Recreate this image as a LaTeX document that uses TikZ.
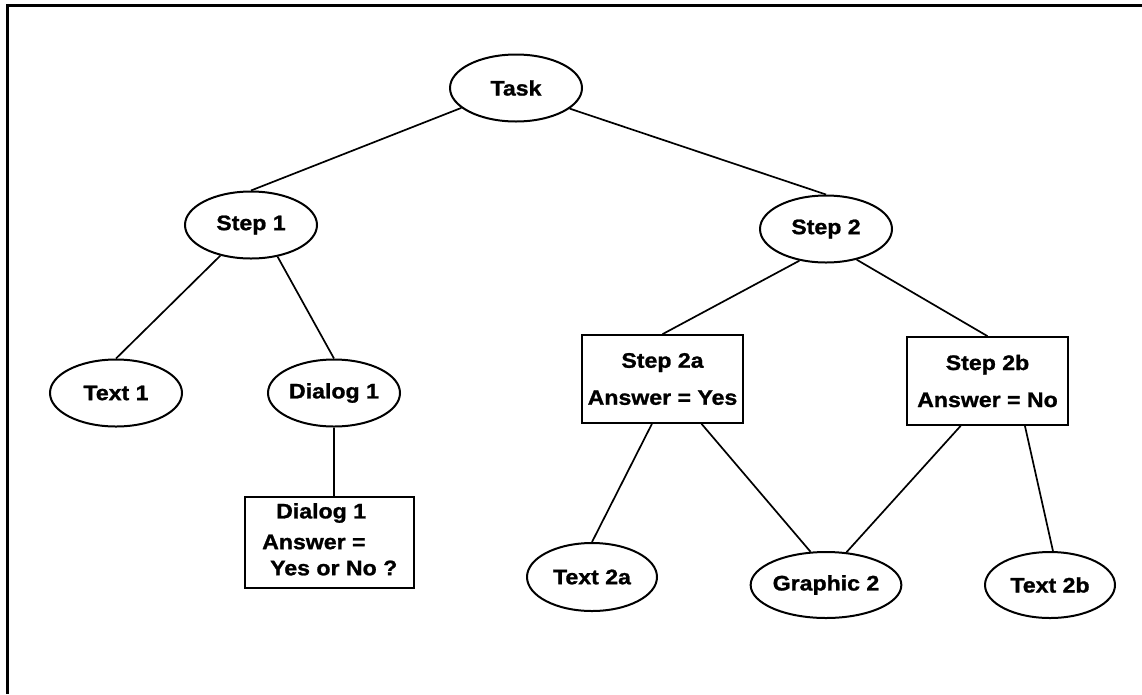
\documentclass[tikz,border=0pt]{standalone}
\usepackage{fontspec}
\newfontfamily\diagfont[FakeStretch=1.1, BoldFeatures={FakeBold=1.2}]{Liberation Sans}
\usetikzlibrary{shapes.geometric,calc}
\tikzset{
  lbl/.style={font=\diagfont\bfseries\fontsize{21}{37}\selectfont},
  oval/.style={ellipse, draw, line width=2pt, inner sep=0pt,
    minimum width=132pt, minimum height=67pt, lbl},
  card/.style={rectangle, draw, line width=1.7pt, inner sep=0pt,
    minimum width=161pt, minimum height=88pt, align=center, lbl},
  link/.style={line width=1.7pt},
  frameline/.style={line width=3pt},
}
\begin{document}
\begin{tikzpicture}[x=1pt,y=-1pt]
\useasboundingbox (0,0) rectangle (1142,694);

% open frame: top and left edges only
\coordinate (fr) at (1142,5);
\coordinate (fc) at (7,5);
\coordinate (fb) at (7,694);
\draw[frameline] (fr) -- (fc) -- (fb);

% tree nodes
\node[oval] (task) at (516,88) {Task};
\node[oval] (s1) at (251,225) {Step 1};
\node[oval] (s2) at (826,229) {Step 2};
\node[oval] (t1) at (116,393) {Text 1};
\node[oval] (d1) at (334,393) {Dialog 1};

\node[rectangle, draw, line width=1.7pt, minimum width=169pt,
      minimum height=91pt] (dbox) at (329.5,542.5) {};
\node[lbl, anchor=west, inner sep=0pt] (dl1) at (276,513) {Dialog 1};
\node[lbl, anchor=west, inner sep=0pt] (dl2) at (262,542) {Answer =};
\node[lbl, anchor=west, inner sep=0pt] (dl3) at (270,568) {Yes or No ?};

\node[card] (b2a) at (662.5,379) {Step 2a\\Answer = Yes};
\node[card] (b2b) at (987.5,381) {Step 2b\\Answer = No};

\node[oval, minimum width=130pt, minimum height=68pt] (t2a) at (592,577) {Text 2a};
\node[oval, minimum width=130pt, minimum height=66pt] (g2) at (826,585) {Graphic 2};
\node[oval, minimum width=130pt, minimum height=66pt] (t2b) at (1050,585) {Text 2b};

% connectors
\draw[link] (task.200) -- (s1.north);
\draw[link] (task.339) -- (s2.north);
\draw[link] (s1.225) -- (t1.north);
\draw[link] (s1.310) -- (d1.north);
\draw[link] (d1.south) -- (d1.south |- dbox.north);
\draw[link] (s2.230) -- (b2a.north);
\draw[link] (s2.315) -- (b2b.north);
\draw[link] ($(b2a.south west)!0.435!(b2a.south east)$) -- (t2a.north);
\draw[link] ($(b2a.south west)!0.74!(b2a.south east)$) -- (g2.115);
\draw[link] ($(b2b.south west)!0.335!(b2b.south east)$) -- (g2.58);
\draw[link] ($(b2b.south west)!0.73!(b2b.south east)$) -- (t2b.85);
\end{tikzpicture}
\end{document}
